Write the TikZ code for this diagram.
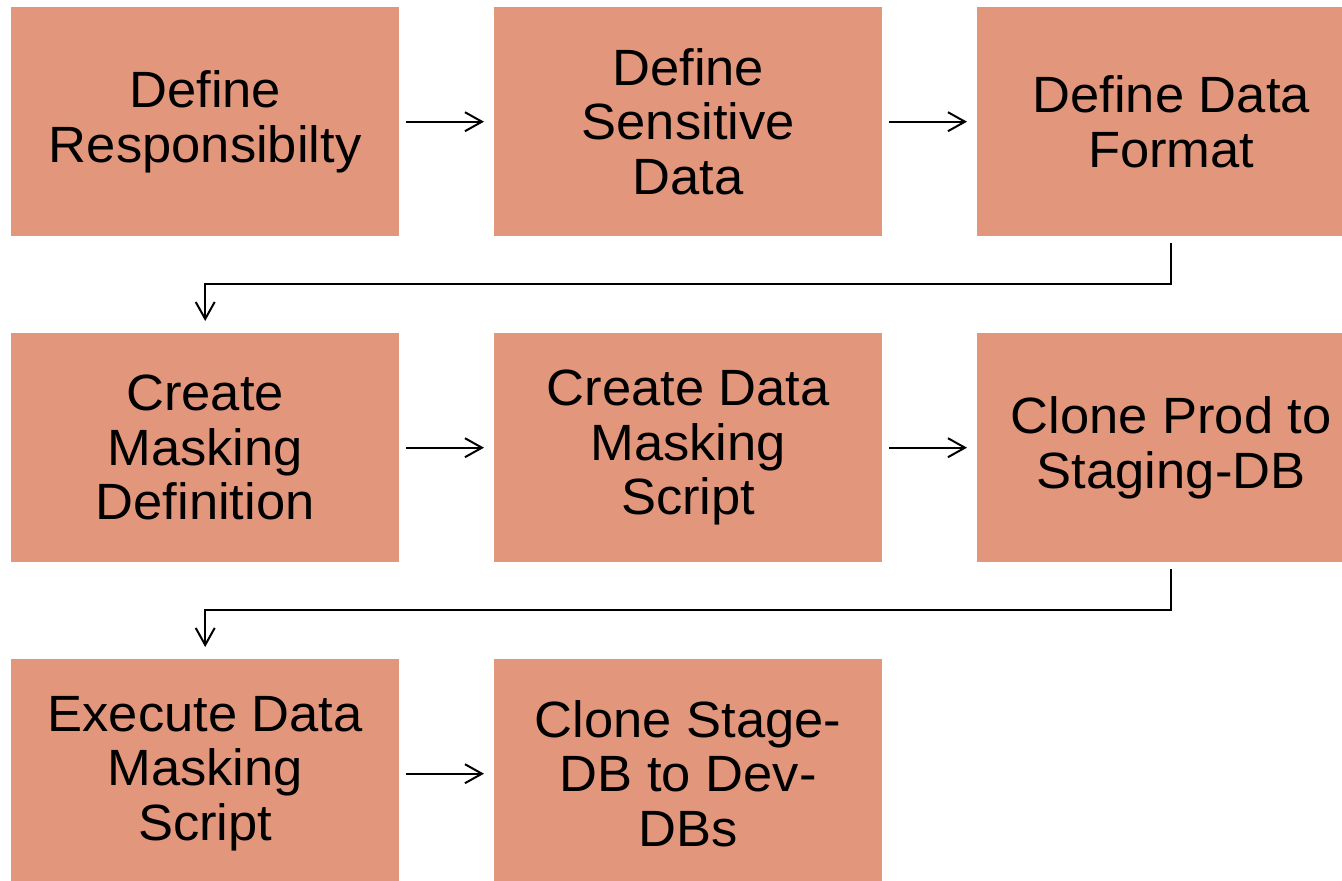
\documentclass[tikz,border=0pt]{standalone}
\usepackage{fontspec}
\setmainfont{Liberation Sans}[FakeStretch=1.03]
\usetikzlibrary{arrows.meta}
\definecolor{boxfill}{RGB}{226,150,123}
\tikzset{
  stepbox/.style={fill=boxfill, draw=none, minimum width=388pt, minimum height=229pt, inner sep=0pt, anchor=north west, align=center, font=\fontsize{51}{54.5}\selectfont},
  arr/.style={line width=2pt, -{Straight Barb[length=17pt,width=19pt,line width=2pt]}}
}
\begin{document}
\begin{tikzpicture}[x=1pt,y=-1pt]
\clip (0,0) rectangle (1342,881);
\fill[white] (0,0) rectangle (1342,881);
\node[stepbox] (a) at (11,7) {Define\\Responsibilty};
\node[stepbox] (b) at (494,7) {Define\\Sensitive\\Data};
\node[stepbox] (c) at (977,7) {Define Data\\Format};
\node[stepbox] (d) at (11,333) {Create\\Masking\\Definition};
\node[stepbox] (e) at (494,333) {Create Data\\Masking\\Script};
\node[stepbox] (f) at (977,333) {Clone Prod to\\Staging-DB};
\node[stepbox] (g) at (11,659) {Execute Data\\Masking\\Script};
\node[stepbox] (h) at (494,659) {Clone Stage-\\DB to Dev-\\DBs};
\draw[arr, shorten <=7pt, shorten >=10pt] (a.east) -- (b.west);
\draw[arr, shorten <=7pt, shorten >=10pt] (b.east) -- (c.west);
\draw[arr, shorten <=7pt, shorten >=10pt] (d.east) -- (e.west);
\draw[arr, shorten <=7pt, shorten >=10pt] (e.east) -- (f.west);
\draw[arr, shorten <=7pt, shorten >=10pt] (g.east) -- (h.west);
\draw[arr, shorten <=7pt, shorten >=12pt] (c.south) -- ++(0,48) -| (d.north);
\draw[arr, shorten <=7pt, shorten >=12pt] (f.south) -- ++(0,48) -| (g.north);
\end{tikzpicture}
\end{document}
